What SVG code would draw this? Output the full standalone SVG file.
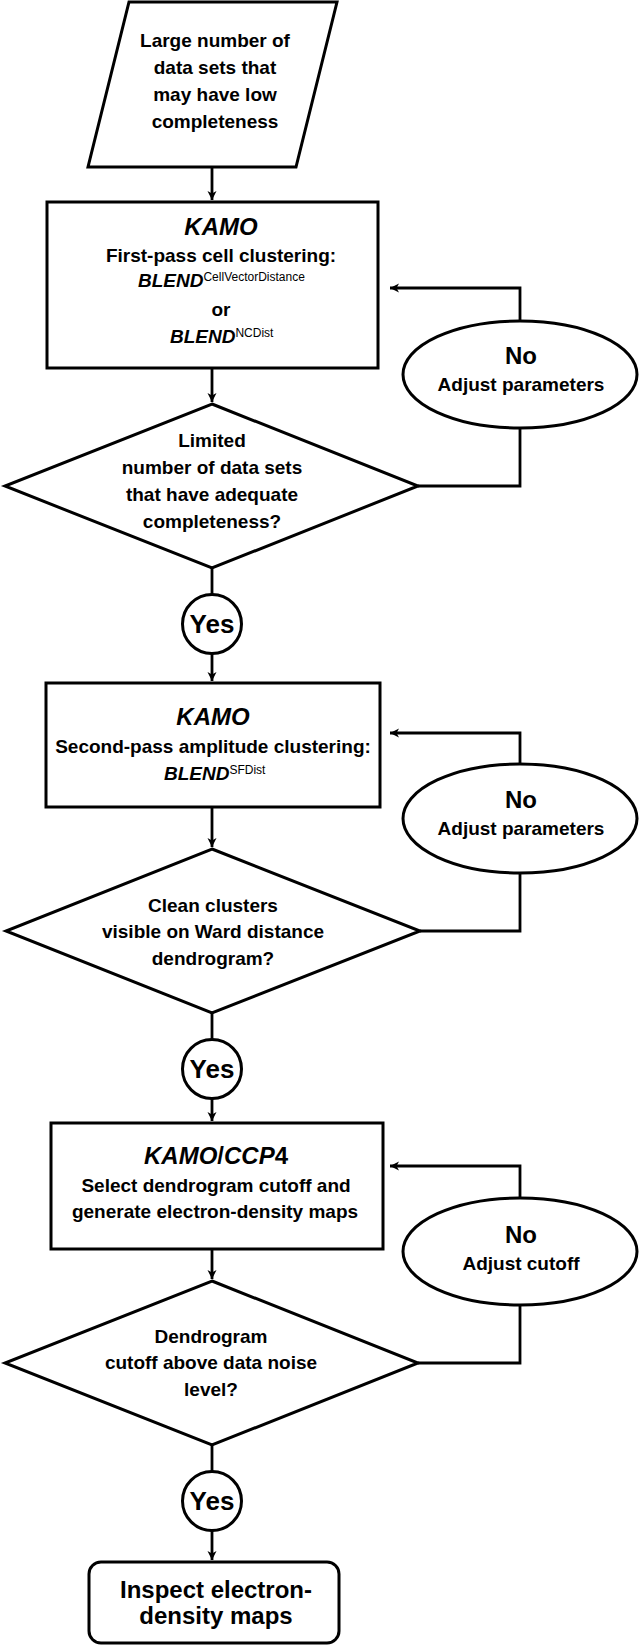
<svg xmlns="http://www.w3.org/2000/svg" width="640" height="1649" viewBox="0 0 640 1649">
<style>
.shape{fill:#fff;stroke:#000;stroke-width:3}
.conn{fill:none;stroke:#000;stroke-width:2.8}
text{font-family:"Liberation Sans",Arial,sans-serif;font-weight:bold;fill:#000}
.t{font-size:19px;text-anchor:middle}
.big{font-size:24px;text-anchor:middle}
.yes{font-size:26px;text-anchor:middle}
.bi{font-style:italic}
.sup{font-size:12px;font-weight:normal}
</style>
<defs>
<marker id="arr" markerUnits="userSpaceOnUse" markerWidth="12" markerHeight="10" refX="9" refY="4.5" orient="auto">
<path d="M0,0 L9,4.5 L0,9 L2.5,4.5 Z" fill="#000"/>
</marker>
</defs>
<rect width="640" height="1649" fill="#fff"/>
<g id="connectors">
<path class="conn" d="M212,167 V200" marker-end="url(#arr)"/>
<path class="conn" d="M212,368 V402" marker-end="url(#arr)"/>
<path class="conn" d="M418,486 H520 V428"/>
<path class="conn" d="M520,321 V288 H390" marker-end="url(#arr)"/>
<path class="conn" d="M212,568 V594"/>
<path class="conn" d="M212,654 V681" marker-end="url(#arr)"/>
<path class="conn" d="M212,807 V847" marker-end="url(#arr)"/>
<path class="conn" d="M420,931 H520 V873"/>
<path class="conn" d="M520,764 V733 H390" marker-end="url(#arr)"/>
<path class="conn" d="M212,1013 V1040"/>
<path class="conn" d="M212,1098 V1121" marker-end="url(#arr)"/>
<path class="conn" d="M212,1249 V1279" marker-end="url(#arr)"/>
<path class="conn" d="M418,1363 H520 V1305"/>
<path class="conn" d="M520,1198 V1166 H390" marker-end="url(#arr)"/>
<path class="conn" d="M212,1445 V1472"/>
<path class="conn" d="M212,1531 V1560" marker-end="url(#arr)"/>
</g>
<g id="input">
<polygon class="shape" points="129,2 337,2 296,167 88,167"/>
<text class="t" x="215" y="47">Large number of</text>
<text class="t" x="215" y="74">data sets that</text>
<text class="t" x="215" y="101">may have low</text>
<text class="t" x="215" y="128">completeness</text>
</g>
<g id="kamo1">
<rect class="shape" x="47" y="202" width="331" height="166"/>
<text class="big bi" x="221" y="235">KAMO</text>
<text class="t" x="221" y="262">First-pass cell clustering:</text>
<text x="138" y="287" font-size="19"><tspan class="bi">BLEND</tspan><tspan class="sup" dy="-6">CellVectorDistance</tspan></text>
<text class="t" x="221" y="316">or</text>
<text x="170" y="343" font-size="19"><tspan class="bi">BLEND</tspan><tspan class="sup" dy="-6">NCDist</tspan></text>
</g>
<g id="decision1">
<polygon class="shape" points="212,404 418,486 212,568 5,486"/>
<text class="t" x="212" y="447">Limited</text>
<text class="t" x="212" y="474">number of data sets</text>
<text class="t" x="212" y="501">that have adequate</text>
<text class="t" x="212" y="528">completeness?</text>
</g>
<g id="no1">
<ellipse class="shape" cx="520" cy="374.5" rx="117" ry="53.5"/>
<text class="big" x="521" y="364">No</text>
<text class="t" x="521" y="391">Adjust parameters</text>
</g>
<g id="yes1">
<circle class="shape" cx="212" cy="624" r="29.5"/>
<text class="yes" x="212" y="633">Yes</text>
</g>
<g id="kamo2">
<rect class="shape" x="46" y="683" width="334" height="124"/>
<text class="big bi" x="213" y="725">KAMO</text>
<text class="t" x="213" y="753">Second-pass amplitude clustering:</text>
<text x="164" y="780" font-size="19"><tspan class="bi">BLEND</tspan><tspan class="sup" dy="-6">SFDist</tspan></text>
</g>
<g id="decision2">
<polygon class="shape" points="212,849 420,931 212,1013 6,931"/>
<text class="t" x="213" y="912">Clean clusters</text>
<text class="t" x="213" y="938">visible on Ward distance</text>
<text class="t" x="213" y="965">dendrogram?</text>
</g>
<g id="no2">
<ellipse class="shape" cx="520" cy="818.5" rx="117" ry="54.5"/>
<text class="big" x="521" y="808">No</text>
<text class="t" x="521" y="835">Adjust parameters</text>
</g>
<g id="yes2">
<circle class="shape" cx="212" cy="1069" r="29.5"/>
<text class="yes" x="212" y="1078">Yes</text>
</g>
<g id="kamo3">
<rect class="shape" x="51" y="1123" width="332" height="126"/>
<text class="big" x="216" y="1164"><tspan class="bi">KAMO</tspan>/<tspan class="bi">CCP</tspan>4</text>
<text class="t" x="216" y="1192">Select dendrogram cutoff and</text>
<text class="t" x="215" y="1218">generate electron-density maps</text>
</g>
<g id="decision3">
<polygon class="shape" points="212,1281 418,1363 212,1445 5,1363"/>
<text class="t" x="211" y="1343">Dendrogram</text>
<text class="t" x="211" y="1369">cutoff above data noise</text>
<text class="t" x="211" y="1396">level?</text>
</g>
<g id="no3">
<ellipse class="shape" cx="520" cy="1251.5" rx="117" ry="53.5"/>
<text class="big" x="521" y="1243">No</text>
<text class="t" x="521" y="1270">Adjust cutoff</text>
</g>
<g id="yes3">
<circle class="shape" cx="212" cy="1501" r="29.5"/>
<text class="yes" x="212" y="1510">Yes</text>
</g>
<g id="final">
<rect class="shape" x="89" y="1562" width="250" height="81" rx="12"/>
<text class="big" x="216" y="1598">Inspect electron-</text>
<text class="big" x="216" y="1624">density maps</text>
</g>
</svg>
